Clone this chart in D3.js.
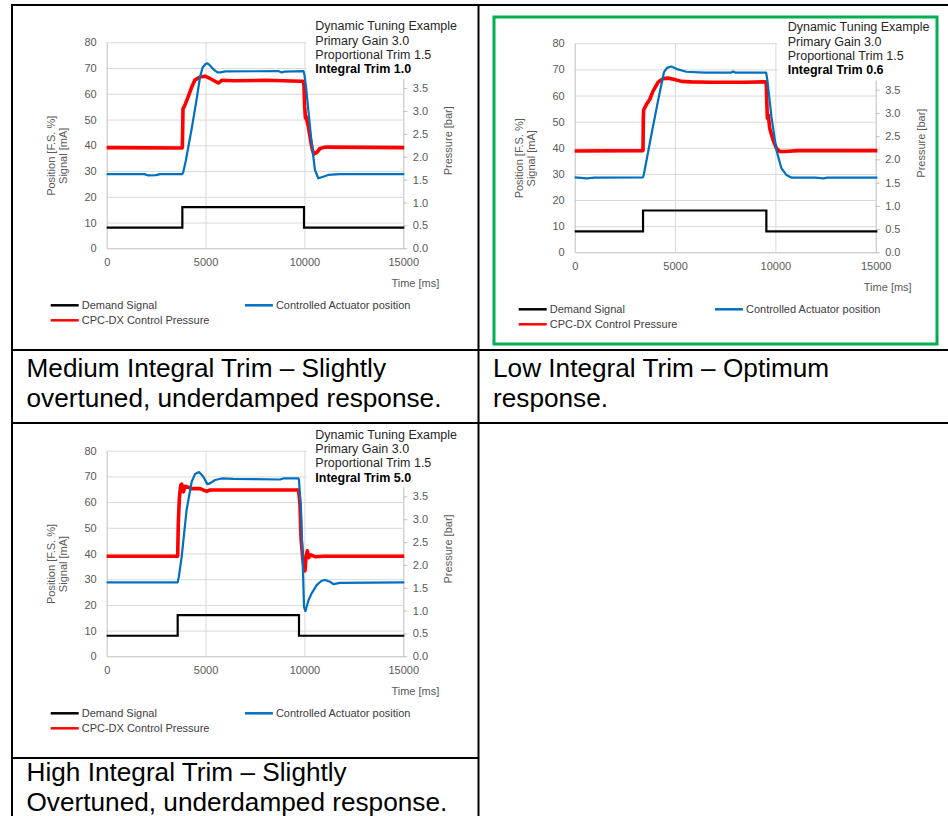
<!DOCTYPE html>
<html><head><meta charset="utf-8">
<script src="https://cdn.jsdelivr.net/npm/d3@7"></script>
<style>
body{margin:0;background:#fff}
svg{display:block}
text{font-family:"Liberation Sans",Arial,sans-serif}
</style>
</head><body>
<svg id="c" width="948" height="816"></svg>
<script>
// ---------- data ----------
const timeTicks = [0, 5000, 10000, 15000];
const leftTicks = [0, 10, 20, 30, 40, 50, 60, 70, 80];
const rightTicks = [0, 0.5, 1, 1.5, 2, 2.5, 3, 3.5];
const seriesNames = ["Demand Signal", "Controlled Actuator position", "CPC-DX Control Pressure"];
const annotationLines = ["Dynamic Tuning Example", "Primary Gain 3.0", "Proportional Trim 1.5"];
const integralTrimLabels = ["Integral Trim 1.0", "Integral Trim 0.6", "Integral Trim 5.0"];
const captionLines = [
  ["Medium Integral Trim \u2013 Slightly", "overtuned, underdamped response."],
  ["Low Integral Trim \u2013 Optimum", "response."],
  ["High Integral Trim \u2013 Slightly", "Overtuned, underdamped response."]
];
const leftTitleLines = ["Position [F.S. %]", "Signal [mA]"];
const rightTitle = "Pressure [bar]";
const xTitle = "Time [ms]";

// Chart 1: Integral Trim 1.0  [time ms, value]
const demand1 = [[0,8],[3826,8],[3826,16],[9978,16],[9978,8],[15050,8]];
const position1 = [[0,28.8],[1900,28.8],[2100,28.3],[2500,28.4],[2700,28.8],[3826,28.8],[3870,29.5],[4000,34],[4300,46.5],[4550,58],[4720,66.5],[4850,70.2],[5000,71.6],[5100,71.8],[5225,71.0],[5400,69.5],[5600,68.3],[5750,68.3],[6000,68.7],[8700,68.8],[8850,68.3],[9000,68.6],[9950,68.8],[10000,67.5],[10079,62.8],[10197,53.7],[10365,40.8],[10534,30.4],[10700,27.2],[10870,27.6],[11200,28.5],[11800,28.8],[15050,28.8]];
const pressure1 = [[0,2.20],[3800,2.19],[3826,2.20],[3860,3.05],[3927,3.10],[3994,3.17],[4129,3.32],[4298,3.52],[4466,3.68],[4719,3.74],[4972,3.76],[5225,3.71],[5478,3.65],[5646,3.61],[5815,3.67],[6404,3.66],[8090,3.67],[9775,3.65],[9944,3.65],[9978,3.55],[10011,3.10],[10050,2.85],[10079,2.88],[10197,2.66],[10281,2.44],[10399,2.15],[10483,2.06],[10618,2.09],[10787,2.18],[11039,2.21],[15050,2.20]];

// Chart 2: Integral Trim 0.6
const demand2 = [[0,8],[3405,8],[3405,16],[9551,16],[9551,8],[15083,8]];
const position2 = [[0,28.7],[600,28.3],[1000,28.6],[3405,28.7],[3450,30],[3821,45],[4153,58],[4300,63.5],[4450,69],[4600,70.6],[4817,71.1],[5150,70],[5565,69.1],[6478,68.8],[7800,68.8],[7890,69.2],[8000,68.8],[9540,68.8],[9600,66],[9717,58],[9801,52],[10050,39.2],[10299,32.2],[10548,29.6],[10798,28.6],[12000,28.6],[12400,28.3],[12600,28.6],[15083,28.6]];
const pressure2 = [[0,2.18],[3405,2.19],[3420,2.9],[3439,3.07],[3571,3.18],[3738,3.29],[3904,3.47],[4153,3.66],[4402,3.74],[4651,3.75],[4983,3.72],[5316,3.68],[5814,3.67],[6811,3.66],[8472,3.66],[9502,3.67],[9551,3.60],[9568,3.29],[9601,2.89],[9650,2.95],[9717,2.67],[9884,2.42],[10050,2.24],[10216,2.17],[10465,2.17],[11130,2.19],[15083,2.19]];

// Chart 3: Integral Trim 5.0
const demand3 = [[0,8],[3590,8],[3590,16],[9725,16],[9725,8],[15051,8]];
const position3 = [[0,28.8],[3590,28.8],[3650,31],[3792,38.8],[4040,56.9],[4298,67.9],[4466,70.9],[4669,71.7],[4888,69.9],[5090,67],[5225,67.3],[5478,68.6],[5815,69.2],[6404,69],[8764,68.8],[8933,69.2],[9700,69.2],[9725,68.5],[9826,56.9],[9910,37.5],[9978,19.3],[10045,17.6],[10112,19.3],[10197,21.6],[10365,24.5],[10618,27.7],[10871,29.4],[11039,29.7],[11292,29],[11460,28.1],[11798,28.6],[15051,28.8]];
const pressure3 = [[0,2.19],[3590,2.19],[3620,2.9],[3674,3.45],[3708,3.61],[3750,3.75],[3792,3.77],[3830,3.62],[3876,3.60],[3961,3.72],[4129,3.70],[4298,3.67],[4719,3.67],[5056,3.61],[5225,3.64],[6404,3.64],[9691,3.64],[9725,3.55],[9775,3.32],[9826,2.6],[9910,2.16],[9978,1.95],[10028,1.87],[10079,2.16],[10146,2.31],[10213,2.16],[10315,2.22],[10534,2.18],[11000,2.19],[15051,2.19]];

// ---------- layout ----------
const colors = {demand:"#000000", position:"#0070C0", pressure:"#FF0000"};
const panels = [
  {l:106.7, r:403.3, t:42.3, b:248.3, demand:demand1, position:position1, pressure:pressure1, trim:integralTrimLabels[0]},
  {l:574.7, r:875.7, t:43.3, b:252.3, demand:demand2, position:position2, pressure:pressure2, trim:integralTrimLabels[1]},
  {l:106.7, r:403.3, t:450.7, b:656.3, demand:demand3, position:position3, pressure:pressure3, trim:integralTrimLabels[2]}
];
const FONT = "Liberation Sans, Arial, sans-serif";

const svg = d3.select("#c");
svg.append("rect").attr("width",948).attr("height",816).attr("fill","#fff");

panels.forEach(p => {
  const g = svg.append("g");
  const x = d3.scaleLinear().domain([0,15000]).range([p.l,p.r]);
  const y = d3.scaleLinear().domain([0,80]).range([p.b,p.t]);
  const yR = d3.scaleLinear().domain([0,4.5]).range([p.b,p.t]);

  // horizontal gridlines
  g.append("g").attr("transform",`translate(${p.l},0)`)
    .call(d3.axisLeft(y).tickValues(leftTicks.slice(1)).tickSize(-(p.r-p.l)).tickFormat(""))
    .call(s=>{s.select(".domain").remove(); s.selectAll("line").attr("stroke","#d9d9d9").attr("stroke-width",1);});
  // vertical gridlines
  g.append("g").attr("transform",`translate(0,${p.b})`)
    .call(d3.axisBottom(x).tickValues(timeTicks.slice(1,3)).tickSize(-(p.b-p.t)).tickFormat(""))
    .call(s=>{s.select(".domain").remove(); s.selectAll("line").attr("stroke","#d9d9d9").attr("stroke-width",1);});

  // left axis
  g.append("g").attr("transform",`translate(${p.l},0)`)
    .call(d3.axisLeft(y).tickValues(leftTicks).tickSize(0).tickPadding(10))
    .call(s=>{s.select(".domain").attr("stroke","#bfbfbf");
      s.selectAll("text").attr("font-size",11).attr("fill","#595959").attr("font-family",FONT);});
  // bottom axis
  g.append("g").attr("transform",`translate(0,${p.b})`)
    .call(d3.axisBottom(x).tickValues(timeTicks).tickSize(0).tickPadding(10).tickFormat(d3.format("d")))
    .call(s=>{s.select(".domain").attr("stroke","#bfbfbf");
      s.selectAll("text").attr("font-size",11).attr("fill","#595959").attr("font-family",FONT);});
  // right axis (upper part hidden by the annotation box, as in the original)
  g.append("g").attr("transform",`translate(${p.r},0)`)
    .call(d3.axisRight(yR).tickValues(rightTicks).tickSize(4).tickSizeOuter(0).tickPadding(5.5).tickFormat(d3.format(".1f")))
    .call(s=>{s.select(".domain").attr("stroke","#bfbfbf"); s.selectAll("line").attr("stroke","#bfbfbf");
      s.selectAll("text").attr("font-size",11).attr("fill","#595959").attr("font-family",FONT);});

  // series
  const lineL = d3.line().x(d=>x(d[0])).y(d=>y(d[1]));
  const lineR = d3.line().x(d=>x(d[0])).y(d=>yR(d[1]));
  g.append("path").datum(p.pressure).attr("d",lineR).attr("fill","none").attr("stroke",colors.pressure).attr("stroke-width",3.6).attr("stroke-linejoin","round");
  g.append("path").datum(p.position).attr("d",lineL).attr("fill","none").attr("stroke",colors.position).attr("stroke-width",2.2).attr("stroke-linejoin","round");
  g.append("path").datum(p.demand).attr("d",lineL).attr("fill","none").attr("stroke",colors.demand).attr("stroke-width",2.2);

  // annotation box (white) covering top of secondary axis
  const bx = x(10000)+2, by = p.t-26, byb = yR(3.7);
  g.append("rect").attr("x",bx).attr("y",by).attr("width",p.r+60-bx).attr("height",byb-by).attr("fill","#fff");
  const ann = g.append("text").attr("x",p.r-88).attr("y",p.t-12.1).attr("font-size",12.5).attr("fill","#262626");
  annotationLines.concat([p.trim]).forEach((t,i)=>{
    ann.append("tspan").attr("x",p.r-88).attr("dy",i===0?0:14.3).text(t)
      .attr("font-weight",i===3?"bold":"normal").attr("fill",i===3?"#000":"#262626");
  });

  // axis titles
  leftTitleLines.forEach((t,i)=>{
    const cx = p.l-55.5+i*11.8, cy=(p.t+p.b)/2+10.5;
    g.append("text").attr("transform",`translate(${cx},${cy}) rotate(-90)`).attr("dy","0.35em")
      .attr("text-anchor","middle").attr("font-size",11).attr("fill","#595959").text(t);
  });
  g.append("text").attr("transform",`translate(${p.r+45},${yR(2.35)}) rotate(-90)`).attr("dy","0.35em")
    .attr("text-anchor","middle").attr("font-size",11).attr("fill","#595959").text(rightTitle);
  g.append("text").attr("x",p.r+36).attr("y",p.b+38.5).attr("text-anchor","end")
    .attr("font-size",11).attr("fill","#595959").text(xTitle);

  // legend
  const w = p.r-p.l;
  const leg = [
    {name:seriesNames[0], c:colors.demand, x0:p.l-56, y0:p.b+57},
    {name:seriesNames[1], c:colors.position, x0:p.l+0.466*w, y0:p.b+57},
    {name:seriesNames[2], c:colors.pressure, x0:p.l-56, y0:p.b+72}
  ];
  leg.forEach(d=>{
    g.append("line").attr("x1",d.x0).attr("x2",d.x0+28).attr("y1",d.y0).attr("y2",d.y0)
      .attr("stroke",d.c).attr("stroke-width",2.5);
    g.append("text").attr("x",d.x0+31).attr("y",d.y0).attr("dy","0.35em").attr("font-size",11)
      .attr("fill","#404040").text(d.name);
  });
});

// captions
const capPos = [{x:26.5,y:377},{x:493,y:377},{x:26.5,y:781}];
captionLines.forEach((lines,i)=>{
  lines.forEach((t,j)=>{
    svg.append("text").attr("x",capPos[i].x).attr("y",capPos[i].y+j*29.5).attr("font-size",26.2)
      .attr("fill","#000").text(t);
  });
});

// green highlight border
svg.append("rect").attr("x",494).attr("y",17).attr("width",443).attr("height",327)
  .attr("fill","none").attr("stroke","#00B050").attr("stroke-width",3);

// table borders
const tb = svg.append("g").attr("stroke","#000").attr("stroke-width",2);
[[11,5,948,5],[11,350,948,350],[11,423,948,423],[11,758,478.5,758]].forEach(a=>tb.append("line").attr("x1",a[0]).attr("y1",a[1]).attr("x2",a[2]).attr("y2",a[3]));
[[12,4,12,816],[478.5,4,478.5,816]].forEach(a=>tb.append("line").attr("x1",a[0]).attr("y1",a[1]).attr("x2",a[2]).attr("y2",a[3]));
</script>
</body></html>
